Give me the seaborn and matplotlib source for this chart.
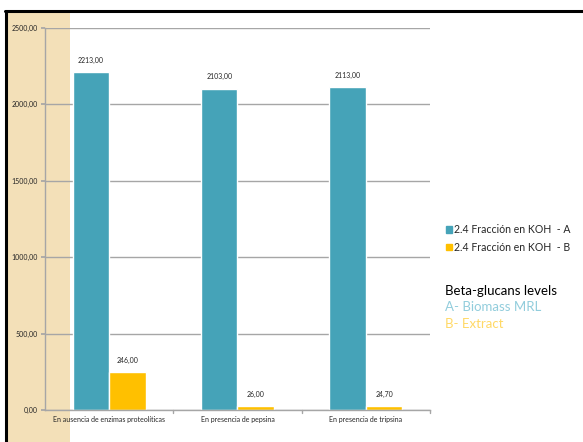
import matplotlib
matplotlib.use("Agg")
import matplotlib.pyplot as plt
from matplotlib.patches import Rectangle
from matplotlib.lines import Line2D
import seaborn as sns
import pandas as pd

categories = ["En ausencia de enzimas proteolíticas", "En presencia de pepsina", "En presencia de tripsina"]
series_names = ["2.4 Fracción en KOH  - A", "2.4 Fracción en KOH  - B"]
values_a = [2213.00, 2103.00, 2113.00]
values_b = [246.00, 26.00, 24.70]
y_ticks = [0, 500, 1000, 1500, 2000, 2500]

colors = ["#45A3B8", "#FFC000"]

df = pd.DataFrame({
    "cat": categories * 2,
    "serie": [series_names[0]] * 3 + [series_names[1]] * 3,
    "val": values_a + values_b,
})

sns.set_theme(style="white")
plt.rcParams["font.family"] = ["Lato", "DejaVu Sans"]

W, H = 583, 442
fig = plt.figure(figsize=(W / 100, H / 100), dpi=100)

# tan side strip and slide frame
fig.patches.append(Rectangle((7 / W, 0), 63 / W, 1 - 12 / H, transform=fig.transFigure,
                             facecolor="#F3E0B8", edgecolor="none", zorder=-5))
fig.lines.append(Line2D([5 / W, 1], [1 - 11 / H, 1 - 11 / H], transform=fig.transFigure,
                        color="black", lw=2.2, zorder=-4))
fig.lines.append(Line2D([6 / W, 6 / W], [0, 1 - 11 / H], transform=fig.transFigure,
                        color="black", lw=2.2, zorder=-4))

ax = fig.add_axes([45 / W, 1 - 410 / H, 385 / W, 382 / H])
ax.set_zorder(2)
ax.patch.set_alpha(0)

sns.barplot(data=df, x="cat", y="val", hue="serie", palette=colors, width=0.57,
            gap=0, ax=ax, legend=False, saturation=1)

ax.set_ylim(0, 2500)
ax.set_xlim(-0.5, 2.5)
ax.set_yticks(y_ticks)
ax.set_yticklabels([f"{v:.2f}".replace(".", ",") for v in y_ticks], fontsize=5)
ax.set_xticks(range(3))
ax.set_xticklabels(categories, fontsize=5)
ax.set_xlabel("")
ax.set_ylabel("")
ax.yaxis.grid(True, color="#A6A6A6", lw=1)
ax.set_axisbelow(True)
for s in ["top", "right"]:
    ax.spines[s].set_visible(False)
for s in ["left", "bottom"]:
    ax.spines[s].set_color("#A6A6A6")
    ax.spines[s].set_linewidth(1)
ax.tick_params(axis="y", length=3, color="#A6A6A6", left=True, pad=2)
ax.tick_params(axis="x", length=0, pad=4)
for xb in [0.5, 1.5, 2.5]:
    ax.plot([xb, xb], [0, -0.008], transform=ax.get_xaxis_transform(), color="#A6A6A6",
            lw=1, clip_on=False)

for container in ax.containers:
    ax.bar_label(container, labels=[f"{v:.2f}".replace(".", ",") for v in container.datavalues],
                 fontsize=5, padding=6)

# legend
handles = [Rectangle((0, 0), 1, 1, color=c) for c in colors]
fig.legend(handles, series_names, loc="upper left", bbox_to_anchor=(442 / W, 1 - 220 / H),
           frameon=False, fontsize=7.6, handlelength=0.55, handleheight=0.55, handletextpad=0.2,
           labelspacing=0.62, borderaxespad=0)

fig.text(445 / W, 1 - 291 / H, "Beta-glucans levels", fontsize=9.5, color="black", va="center")
fig.text(445 / W, 1 - 307 / H, "A- Biomass MRL", fontsize=9.5, color="#92CDDC", va="center")
fig.text(445 / W, 1 - 324 / H, "B- Extract", fontsize=9.5, color="#FFD966", va="center")

fig.savefig("out.png", dpi=100)
